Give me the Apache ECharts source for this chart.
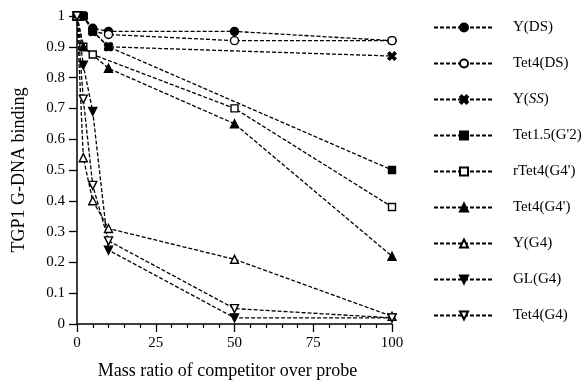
<!DOCTYPE html>
<html>
<head>
<meta charset="utf-8">
<script src="https://cdn.jsdelivr.net/npm/echarts@6/dist/echarts.min.js"></script>
<style>
html,body{margin:0;padding:0;background:#fff;}
#main{width:584px;height:392px;}
</style>
</head>
<body>
<div id="main"></div>
<script>
// data: [mass ratio, binding]
var yDS     = [[0,1],[2,1],[5,0.96],[10,0.95],[50,0.95],[100,0.92]];
var tet4DS  = [[0,1],[2,1],[5,0.95],[10,0.94],[50,0.92],[100,0.92]];
var ySS     = [[0,1],[2,1],[5,0.95],[10,0.9],[100,0.87]];
var tet15G2 = [[0,1],[2,1],[5,0.95],[10,0.9],[100,0.5]];
var rTet4G4 = [[0,1],[2,0.9],[5,0.875],[50,0.7],[100,0.38]];
var tet4G4p = [[0,1],[2,0.9],[10,0.83],[50,0.65],[100,0.22]];
var yG4     = [[0,1],[2,0.54],[5,0.4],[10,0.31],[50,0.21],[100,0.025]];
var glG4    = [[0,1],[2,0.84],[5,0.69],[10,0.24],[50,0.02],[100,0.02]];
var tet4G4  = [[0,1],[2,0.73],[5,0.45],[10,0.27],[50,0.05],[100,0.02]];

var names = ['Y(DS)','Tet4(DS)','Y(SS)',"Tet1.5(G'2)","rTet4(G4')","Tet4(G4')",'Y(G4)','GL(G4)','Tet4(G4)'];
var xTicks = [0,25,50,75,100];

var crossPath = 'path://M0,2 L2,0 L5,3 L8,0 L10,2 L7,5 L10,8 L8,10 L5,7 L2,10 L0,8 L3,5 Z';
var serif = '"Liberation Serif", "DejaVu Serif", serif';

// marker: symbol, filled?, rotate
var marks = [
	['circle',true,0],
	['circle',false,0],
	[crossPath,true,0],
	['rect',true,0],
	['rect',false,0],
	['triangle',true,0],
	['triangle',false,0],
	['triangle',true,180],
	['triangle',false,180]
];
var allData = [yDS,tet4DS,ySS,tet15G2,rTet4G4,tet4G4p,yG4,glG4,tet4G4];

var series=[];
for(var i=0;i<allData.length;i++){
	var m=marks[i];
	series.push({
		name:names[i],
		type:'line',
		data:allData[i],
		symbol:m[0],
		symbolRotate:m[2],
		symbolSize:(m[0]=='rect')?7:8,
		animation:false,
		lineStyle:{color:'#000',width:1.3,type:[4,2]},
		itemStyle:{color:m[1]?'#000':'#fff',borderColor:'#000',borderWidth:1.4}
	});
}

var myChart=echarts.init(document.getElementById('main'));
myChart.setOption({
	backgroundColor:'#fff',
	animation:false,
	grid:{left:77,right:192,top:16,bottom:68},
	legend:{
		orient:'vertical',
		left:433,
		top:20,
		padding:0,
		itemWidth:60,
		itemHeight:10,
		itemGap:21,
		textStyle:{fontFamily:serif,fontSize:15,color:'#000',padding:[0,0,0,14],
			rich:{i:{fontFamily:serif,fontSize:15,fontStyle:'italic',color:'#000'}}},
		formatter:function(n){
			if(n=='Y(SS)') return 'Y({i|SS})';
			return n;
		},
		data:names
	},
	xAxis:{
		type:'value',
		min:0,max:100,interval:25,
		name:'Mass ratio of competitor over probe',
		nameLocation:'middle',
		nameGap:38,
		nameTextStyle:{fontFamily:serif,fontSize:18,color:'#000',padding:[0,14,0,0]},
		axisLine:{lineStyle:{color:'#000',width:1.5}},
		axisTick:{length:8,lineStyle:{color:'#000',width:1.3}},
		minorTick:{show:true,splitNumber:5,length:4,lineStyle:{color:'#000',width:1.2}},
		axisLabel:{fontFamily:serif,fontSize:15,color:'#000',margin:12,
			formatter:function(v){return xTicks.indexOf(v)>=0?String(v):'';}},
		splitLine:{show:false}
	},
	yAxis:{
		type:'value',
		min:0,max:1,interval:0.1,
		name:'TGP1 G-DNA binding',
		nameLocation:'middle',
		nameGap:49,
		nameTextStyle:{fontFamily:serif,fontSize:18,color:'#000'},
		axisLine:{show:true,lineStyle:{color:'#000',width:1.5}},
		axisTick:{show:true,length:8,lineStyle:{color:'#000',width:1.3}},
		axisLabel:{fontFamily:serif,fontSize:15,color:'#000',margin:12},
		splitLine:{show:false}
	},
	series:series
});
</script>
</body>
</html>
